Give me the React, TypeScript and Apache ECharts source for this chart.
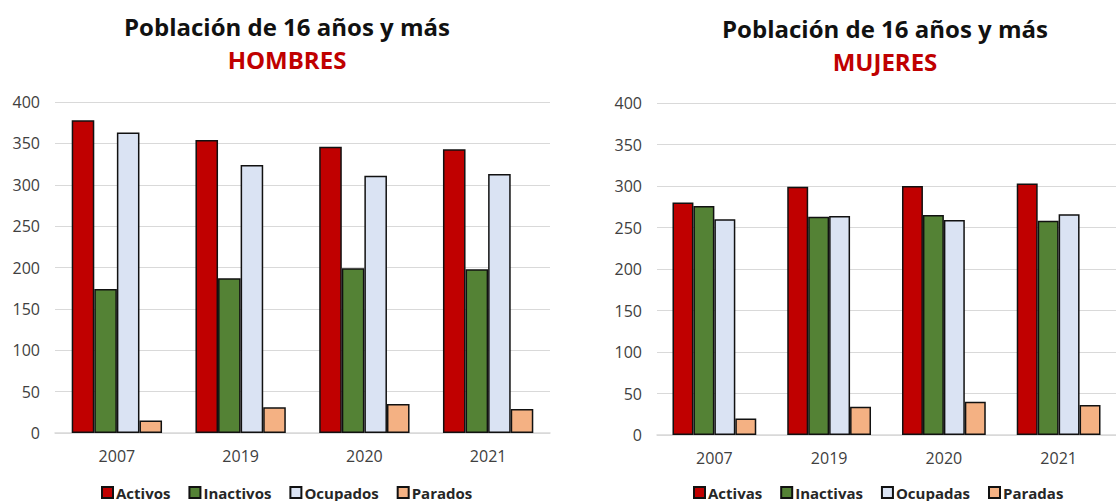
import React, { useEffect, useRef } from "react";
import * as echarts from "echarts";

const years = ["2007", "2019", "2020", "2021"];
const yTicks = [0, 50, 100, 150, 200, 250, 300, 350, 400];

const menNames = ["Activos", "Inactivos", "Ocupados", "Parados"];
const womenNames = ["Activas", "Inactivas", "Ocupadas", "Paradas"];

const menActivos = [378, 354, 346, 343];
const menInactivos = [174, 187, 199, 198];
const menOcupados = [363, 324, 311, 313];
const menParados = [15, 31, 35, 29];

const womenActivas = [280, 299, 300, 303];
const womenInactivas = [276, 263, 265, 258];
const womenOcupadas = [260, 264, 259, 266];
const womenParadas = [20, 34, 40, 36];

const colors = ["#C00000", "#548235", "#DAE3F3", "#F4B183"];

const FONT = "'Open Sans', 'Noto Sans', sans-serif";

export default function App() {
  const ref = useRef<HTMLDivElement>(null);
  useEffect(() => {
    if (!ref.current) return;
    const chart = echarts.init(ref.current, undefined, { renderer: "svg" });
    const menData = [menActivos, menInactivos, menOcupados, menParados];
    const womenData = [womenActivas, womenInactivas, womenOcupadas, womenParadas];

    const mkSeries = (names: string[], data: number[][], idx: number) =>
      names.map((n, i) => ({
        name: n,
        type: "bar",
        xAxisIndex: idx,
        yAxisIndex: idx,
        data: data[i],
        barGap: "0%",
        barCategoryGap: "27%",
        itemStyle: { color: colors[i], borderColor: "#111", borderWidth: 1.5 },
      }));

    const yAxisCommon = {
      type: "value",
      min: yTicks[0],
      max: yTicks[yTicks.length - 1],
      interval: yTicks[1] - yTicks[0],
      axisLine: { show: false },
      axisTick: { show: false },
      splitLine: { lineStyle: { color: "#D9D9D9", width: 1 } },
      axisLabel: { fontSize: 16, color: "#404040", fontFamily: FONT, margin: 15 },
    };
    const xAxisCommon = {
      type: "category",
      data: years,
      axisLine: { lineStyle: { color: "#D9D9D9", width: 1.5 } },
      axisTick: { show: false },
      axisLabel: { fontSize: 16, color: "#404040", fontFamily: FONT, margin: 15 },
    };
    const legendCommon = {
      icon: "rect",
      itemWidth: 11,
      itemHeight: 11,
      itemGap: 18,
      textStyle: { fontSize: 15, fontWeight: "bold", color: "#262626", fontFamily: FONT, padding: [0, 0, 0, -2] },
    };
    const titleStyle = { fontSize: 24, fontWeight: "bold", color: "#111", fontFamily: FONT };
    const subStyle = { fontSize: 24, fontWeight: "bold", color: "#C00000", fontFamily: FONT };

    chart.setOption({
      animation: false,
      backgroundColor: "#fff",
      title: [
        { text: "Población de 16 años y más", left: 282, top: 9, textAlign: "center", textStyle: titleStyle },
        { text: "HOMBRES", left: 282, top: 42, textAlign: "center", textStyle: subStyle },
        { text: "Población de 16 años y más", left: 880, top: 11, textAlign: "center", textStyle: titleStyle },
        { text: "MUJERES", left: 880, top: 44, textAlign: "center", textStyle: subStyle },
      ],
      legend: [
        { ...legendCommon, data: menNames, left: 96, top: 480 },
        { ...legendCommon, data: womenNames, left: 688, top: 480 },
      ],
      grid: [
        { left: 55, top: 102, width: 495, height: 331 },
        { left: 657, top: 103, width: 470, height: 332 },
      ],
      xAxis: [
        { ...xAxisCommon, gridIndex: 0 },
        { ...xAxisCommon, gridIndex: 1 },
      ],
      yAxis: [
        { ...yAxisCommon, gridIndex: 0 },
        { ...yAxisCommon, gridIndex: 1 },
      ],
      series: [...mkSeries(menNames, menData, 0), ...mkSeries(womenNames, womenData, 1)],
    });
    return () => chart.dispose();
  }, []);
  return (
    <div
      ref={ref}
      style={{ position: "absolute", left: 0, top: 0, width: 1116, height: 501 }}
    />
  );
}
